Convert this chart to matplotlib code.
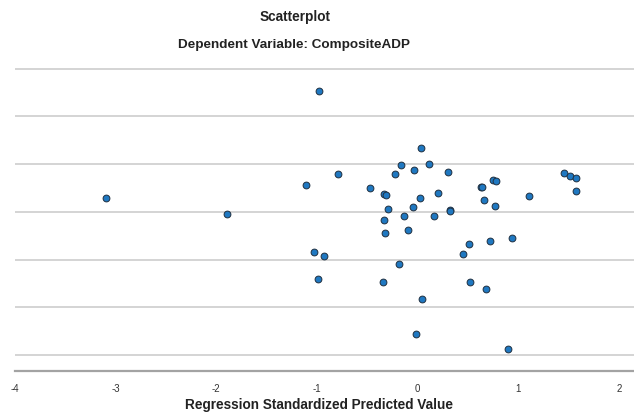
import matplotlib.pyplot as plt
import numpy as np

# Regression standardized predicted value (x) vs standardized residual (y)
pred = [-0.98, -3.10, -1.89, 0.03, -0.16, 0.11, -0.79, -0.22, -0.04, 0.30,
        -1.11, -0.47, -0.33, -0.31, 0.02, 0.20, 0.63, 0.64, 0.75, 0.78,
        1.45, 1.51, 1.57, 1.57, 1.11, 0.66, 0.77, -0.29, -0.05, 0.32,
        0.32, -0.33, -0.14, 0.16, -0.32, -0.10, 0.94, 0.72, 0.51, 0.45,
        -1.03, -0.93, -0.18, -0.99, -0.34, 0.52, 0.68, 0.04, -0.02, 0.90]
resid = [2.52, 0.30, -0.04, 1.34, 0.99, 1.00, 0.79, 0.79, 0.88, 0.83,
         0.56, 0.49, 0.37, 0.35, 0.30, 0.40, 0.52, 0.52, 0.67, 0.65,
         0.82, 0.76, 0.71, 0.44, 0.34, 0.24, 0.13, 0.06, 0.10, 0.03,
         0.01, -0.16, -0.08, -0.09, -0.44, -0.38, -0.54, -0.61, -0.68, -0.89,
         -0.83, -0.92, -1.09, -1.40, -1.46, -1.47, -1.62, -1.82, -2.55, -2.87]

xticks = [-4, -3, -2, -1, 0, 1, 2]
grid_y = [-3, -2, -1, 0, 1, 2, 3]

plt.rcParams['font.family'] = ['Liberation Sans', 'DejaVu Sans']

W, H = 634, 415
fig = plt.figure(figsize=(W / 100, H / 100), dpi=100)
# axes placed in pixel terms: left 15, right 634, top 59, bottom 371
ax = fig.add_axes([15 / W, 1 - 371 / H, (634 - 15) / W, (371 - 59) / H])

ax.set_xlim(-4, 2.15)
ax.set_ylim(-3.33, 3.2)

for g in grid_y:
    ax.axhline(g, color='#d4d4d4', lw=1.4, zorder=1)

ax.scatter(pred, resid, s=24, color='#1f78c1', edgecolors='#203040',
           linewidths=0.7, zorder=3)

for s in ['top', 'right', 'left']:
    ax.spines[s].set_visible(False)
ax.spines['bottom'].set_color('#a3a3a3')
ax.spines['bottom'].set_linewidth(1.6)

ax.set_yticks([])
ax.set_xticks(xticks)
ax.set_xticklabels([str(t) for t in xticks], fontsize=7, color='#333333')
ax.tick_params(axis='x', length=0, pad=9)

ax.set_xlabel('Regression Standardized Predicted Value', fontsize=9.8,
              fontweight='bold', color='#222222', va='center')
ax.xaxis.set_label_coords(304 / (634 - 15), -(405 - 371) / (371 - 59))

fig.text(295 / W, 1 - 17 / H, 'Scatterplot', fontsize=9.8, fontweight='bold',
         ha='center', va='center', color='#222222')
fig.text(294 / W, 1 - 45 / H, 'Dependent Variable: CompositeADP', fontsize=9.7,
         fontweight='bold', ha='center', va='center', color='#222222')

plt.savefig('out.png', dpi=100)
